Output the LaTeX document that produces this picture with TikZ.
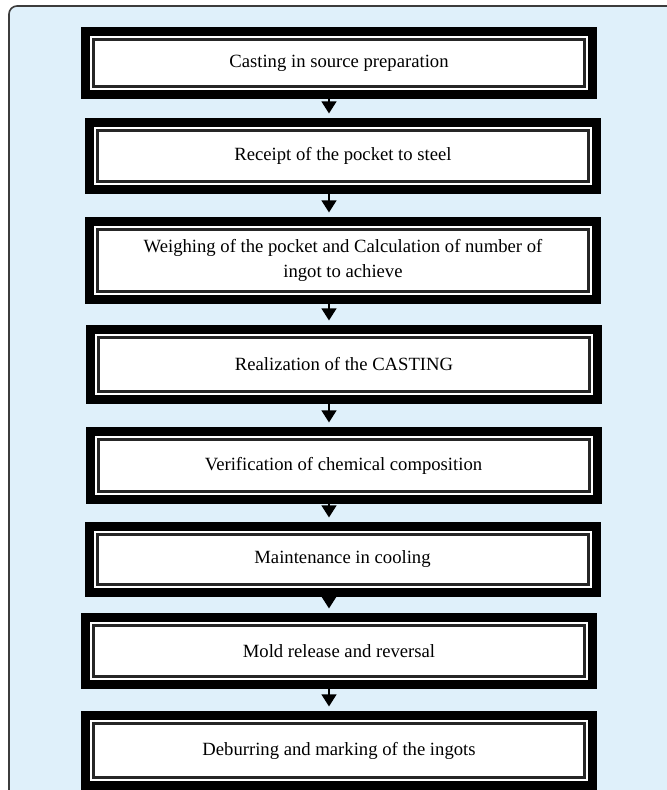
\documentclass[tikz,border=0pt]{standalone}
\usepackage{fontspec}
\setmainfont{Liberation Serif}
\usetikzlibrary{arrows.meta}
\definecolor{panelblue}{RGB}{223,240,250}
\definecolor{panelrim}{RGB}{60,60,60}
\tikzset{
  stagebox/.style={draw=black, line width=6.75pt, fill=white,
    minimum width=380.25pt, minimum height=#1, inner sep=0pt, align=center,
    font=\fontsize{14}{19}\selectfont,
    path picture={\draw[line width=2.25pt, black!85]
      ([shift={(6pt,-6pt)}]path picture bounding box.north west) rectangle
      ([shift={(-6pt,6pt)}]path picture bounding box.south east);}},
  flow/.style={line width=1.5pt, -{Triangle[width=11pt,length=9pt]},
    shorten >=3.4pt}
}
\begin{document}
\begin{tikzpicture}[x=0.75pt, y=-0.75pt]
\clip (0,0) rectangle (667,790);
\draw[panelrim, fill=panelblue, line width=1.2pt, rounded corners=6pt]
  (9,6) rectangle (720,840);
\coordinate (spine) at (329,0);
% stages of the casting
\node[stagebox=47.25pt] (b1) at (339,63) {Casting in source preparation};
\node[stagebox=50.25pt] (b2) at (343,156) {Receipt of the pocket to steel};
\node[stagebox=58.5pt] (b3) at (343,260.5)
  {Weighing of the pocket and Calculation of number of\\ingot to achieve};
\node[stagebox=52.5pt] (b4) at (344,364.5) {Realization of the CASTING};
\node[stagebox=51pt] (b5) at (343.5,465.5) {Verification of chemical composition};
\node[stagebox=49.5pt] (b6) at (342.5,559.5) {Maintenance in cooling};
\node[stagebox=50.25pt] (b7) at (339,651) {Mold release and reversal};
\node[stagebox=52.5pt] (b8) at (339,750.5) {Deburring and marking of the ingots};
% arrows
\draw[flow] (b1.south -| spine) -- (b2.north -| spine);
\draw[flow] (b2.south -| spine) -- (b3.north -| spine);
\draw[flow] (b3.south -| spine) -- (b4.north -| spine);
\draw[flow] (b4.south -| spine) -- (b5.north -| spine);
\draw[flow] (b5.south -| spine) -- (b6.north -| spine);
\draw[flow] (b6.south -| spine) -- (b7.north -| spine);
\draw[flow] (b7.south -| spine) -- (b8.north -| spine);
\end{tikzpicture}
\end{document}
